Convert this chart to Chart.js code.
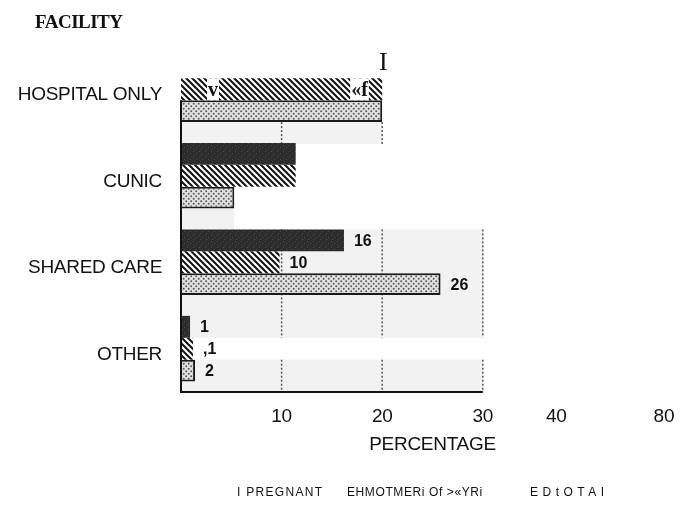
<!DOCTYPE html>
<html>
<head>
<meta charset="utf-8">
<script src="https://cdn.jsdelivr.net/npm/chart.js@4.4.1/dist/chart.umd.min.js"></script>
<style>
    html, body { margin: 0; padding: 0; background: #fff; }
</style>
</head>
<body>
<canvas id="facilityChart" width="694" height="506"></canvas>
<script>
const facilities = ['HOSPITAL ONLY', 'CUNIC', 'SHARED CARE', 'OTHER'];
const pregnantValues = [null, 11.4, 16.2, 0.9];
const mothersValues = [20, 11.4, 9.8, 1.2];
const totalValues = [20, 5.3, 25.8, 1.4];

// value labels printed next to the bars (as they appear on the scan)
const pregnantLabels = [null, null, '16', '1'];
const mothersLabels = [null, null, '10', ',1'];
const totalLabels = [null, null, '26', '2'];

const gridValues = [10, 20, 30];
const tickValues = [10, 20, 30, 37.3, 48];
const tickLabels = ['10', '20', '30', '40', '80'];
const legendTexts = ['I PREGNANT', 'EHMOTMERi Of >«YRi', 'EDtOTAI'];

const canvas = document.getElementById('facilityChart');
const ctx = canvas.getContext('2d');
const SANS = '"Liberation Sans", Arial, sans-serif';
const SERIF = '"Liberation Serif", "Times New Roman", serif';

function makePattern(size, draw) {
    const c = document.createElement('canvas');
    c.width = size;
    c.height = size;
    draw(c.getContext('2d'), size);
    return ctx.createPattern(c, 'repeat');
}

// dark, slightly mottled fill
const darkFill = makePattern(6, (p, s) => {
    p.fillStyle = '#2c2c2c';
    p.fillRect(0, 0, s, s);
    p.fillStyle = '#4a4a4a';
    p.fillRect(1, 1, 1, 1);
    p.fillRect(4, 3, 1, 1);
    p.fillRect(2, 5, 1, 1);
});

// "\\\\" hatching
const hatchFill = makePattern(6, (p, s) => {
    p.fillStyle = '#fff';
    p.fillRect(0, 0, s, s);
    p.strokeStyle = '#111';
    p.lineWidth = 2;
    p.beginPath();
    p.moveTo(-1, -1); p.lineTo(s + 1, s + 1);
    p.moveTo(-1, s - 1); p.lineTo(1, s + 1);
    p.moveTo(s - 1, -1); p.lineTo(s + 1, 1);
    p.stroke();
});

// stippled fill
const dotFill = makePattern(5, (p, s) => {
    p.fillStyle = '#e2e2e2';
    p.fillRect(0, 0, s, s);
    p.fillStyle = '#5a5a5a';
    p.beginPath();
    p.arc(1.2, 1.2, 1, 0, Math.PI * 2);
    p.arc(3.7, 3.7, 1, 0, Math.PI * 2);
    p.fill();
});

// light grey backing panel with dashed grid lines, like the scan
const panelPlugin = {
    id: 'panel',
    beforeDraw(chart) {
        // the scan's lettering is set a little tight
        chart.ctx.letterSpacing = '-0.3px';
    },
    beforeDatasetsDraw(chart) {
        const { ctx, scales: { x }, chartArea } = chart;
        const x0 = x.getPixelForValue(0);
        const totals = chart.getDatasetMeta(2).data;
        const preg = chart.getDatasetMeta(0).data;
        const moth = chart.getDatasetMeta(1).data;
        const rects = [];

        // pale strip under each total bar (kept inside the plot area)
        totals.forEach((bar, i) => {
            const top = bar.y + bar.height / 2;
            const bottom = Math.min(top + bar.height, chartArea.bottom);
            if (bottom <= top) return;
            rects.push({ x2: x.getPixelForValue(totalValues[i]), y1: top, y2: bottom });
        });
        // panel behind the lower two groups, broken by the row of the small "other" bar
        const panelTop = preg[2].y - preg[2].height / 2;
        const gapTop = moth[3].y - moth[3].height / 2;
        const gapBottom = moth[3].y + moth[3].height / 2;
        const x30 = x.getPixelForValue(30);
        rects.push({ x2: x30, y1: panelTop, y2: gapTop });
        rects.push({ x2: x30, y1: gapBottom, y2: chartArea.bottom });

        ctx.save();
        rects.forEach(r => {
            ctx.fillStyle = '#f2f2f2';
            ctx.fillRect(x0, r.y1, r.x2 - x0, r.y2 - r.y1);
            ctx.strokeStyle = '#555';
            ctx.lineWidth = 1.5;
            ctx.setLineDash([2, 2]);
            gridValues.forEach(v => {
                const px = x.getPixelForValue(v);
                if (px > r.x2 + 1) return;
                ctx.beginPath();
                ctx.moveTo(px, r.y1);
                ctx.lineTo(px, r.y2);
                ctx.stroke();
            });
        });
        ctx.restore();
    },
    afterDatasetsDraw(chart) {
        const { ctx, scales: { x }, chartArea } = chart;
        const x0 = x.getPixelForValue(0);
        const totals = chart.getDatasetMeta(2).data;
        ctx.save();
        ctx.strokeStyle = '#111';
        ctx.lineWidth = 2;
        ctx.beginPath();
        ctx.moveTo(x0, totals[0].y - totals[0].height / 2);
        ctx.lineTo(x0, chartArea.bottom);
        ctx.lineTo(x.getPixelForValue(30), chartArea.bottom);
        ctx.stroke();

        // value labels
        const labelSets = [pregnantLabels, mothersLabels, totalLabels];
        ctx.letterSpacing = '0px';
        ctx.fillStyle = '#111';
        ctx.font = 'bold 16px ' + SANS;
        ctx.textBaseline = 'middle';
        labelSets.forEach((labels, d) => {
            chart.getDatasetMeta(d).data.forEach((bar, i) => {
                if (!labels[i]) return;
                ctx.fillText(labels[i], bar.x + 10, bar.y + 1);
            });
        });

        // stray characters printed over the hospital hatching
        const hb = chart.getDatasetMeta(1).data[0];
        ctx.font = 'bold 20px ' + SERIF;
        ctx.textBaseline = 'alphabetic';
        [['v', hb.base + 27], ['«f', hb.x - 31]].forEach(([t, tx]) => {
            const w = ctx.measureText(t).width;
            ctx.fillStyle = '#fff';
            ctx.fillRect(tx - 1, hb.y - hb.height / 2, w + 2, hb.height);
            ctx.fillStyle = '#111';
            ctx.fillText(t, tx, hb.y + 7);
        });
        ctx.restore();
    },
    afterDraw(chart) {
        const { ctx } = chart;
        ctx.save();
        ctx.letterSpacing = '-0.5px';
        ctx.fillStyle = '#111';
        ctx.textBaseline = 'alphabetic';
        ctx.font = 'bold 19px ' + SERIF;
        ctx.fillText('FACILITY', 35, 28);
        ctx.letterSpacing = '0px';
        ctx.font = '26px ' + SERIF;
        ctx.fillText('I', 379, 70);

        ctx.font = '12px ' + SANS;
        ctx.textBaseline = 'middle';
        const legendX = [237, 347, 530];
        const legendSpacing = ['1.3px', '0.6px', '4.5px'];
        legendTexts.forEach((t, i) => {
            ctx.letterSpacing = legendSpacing[i];
            ctx.fillText(t, legendX[i], 493);
        });
        ctx.restore();
    }
};

new Chart(canvas, {
    type: 'bar',
    data: {
        labels: facilities,
        datasets: [
            { label: 'PREGNANT', data: pregnantValues, backgroundColor: darkFill, borderWidth: 0 },
            { label: 'MOTHERS OF >1YR', data: mothersValues, backgroundColor: hatchFill, borderWidth: 0 },
            { label: 'TOTAL', data: totalValues, backgroundColor: dotFill, borderColor: '#1a1a1a', borderWidth: 2 }
        ]
    },
    options: {
        indexAxis: 'y',
        responsive: false,
        animation: false,
        devicePixelRatio: 1,
        categoryPercentage: 0.76,
        barPercentage: 1,
        layout: { padding: { left: 10, right: 10, top: 46, bottom: 50 } },
        plugins: {
            legend: { display: false },
            tooltip: { enabled: false }
        },
        scales: {
            x: {
                min: 0,
                max: 50,
                grid: { display: false, drawTicks: false },
                border: { display: false },
                afterBuildTicks: scale => {
                    scale.ticks = tickValues.map(v => ({ value: v }));
                },
                afterFit: scale => { scale.height = 64; },
                ticks: {
                    autoSkip: false,
                    maxRotation: 0,
                    padding: 13,
                    color: '#111',
                    font: { family: SANS, size: 19 },
                    callback: (value, index) => tickLabels[index]
                },
                title: {
                    display: true,
                    text: 'PERCENTAGE',
                    color: '#111',
                    font: { family: SANS, size: 19 },
                    padding: { top: 0, bottom: 0 }
                }
            },
            y: {
                grid: { display: false, drawTicks: false },
                border: { display: false },
                afterFit: scale => { scale.width = 171; },
                ticks: {
                    crossAlign: 'near',
                    padding: 19,
                    labelOffset: 6,
                    color: '#111',
                    font: { family: SANS, size: 19 }
                }
            }
        }
    },
    plugins: [panelPlugin]
});
</script>
</body>
</html>
